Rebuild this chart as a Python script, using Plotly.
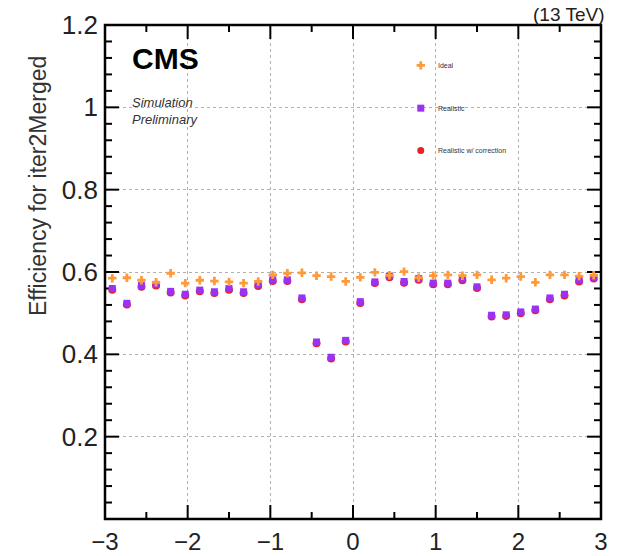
import numpy as np
import plotly.graph_objects as go

# 34 equal eta bins between -3 and 3
eta_edges = np.linspace(-3, 3, 35)
eta = 0.5 * (eta_edges[:-1] + eta_edges[1:])

eff_ideal = [0.585, 0.586, 0.580, 0.575, 0.597, 0.573, 0.580, 0.578, 0.576, 0.573,
             0.577, 0.593, 0.597, 0.598, 0.591, 0.589, 0.577, 0.587, 0.599, 0.592,
             0.601, 0.586, 0.591, 0.593, 0.591, 0.593, 0.581, 0.585, 0.589, 0.575,
             0.593, 0.593, 0.590, 0.592]

eff_realistic = [0.560, 0.524, 0.567, 0.570, 0.553, 0.546, 0.556, 0.552, 0.560, 0.552,
                 0.569, 0.581, 0.581, 0.537, 0.430, 0.393, 0.434, 0.528, 0.576, 0.590,
                 0.577, 0.584, 0.573, 0.573, 0.583, 0.564, 0.495, 0.496, 0.503, 0.510,
                 0.537, 0.546, 0.580, 0.587]

eff_corrected = [0.557, 0.521, 0.564, 0.567, 0.550, 0.543, 0.553, 0.549, 0.557, 0.549,
                 0.566, 0.578, 0.578, 0.534, 0.427, 0.390, 0.431, 0.525, 0.573, 0.587,
                 0.574, 0.581, 0.570, 0.570, 0.580, 0.561, 0.492, 0.493, 0.500, 0.507,
                 0.534, 0.543, 0.577, 0.584]

series_names = ["Ideal", "Realistic", "Realistic w/ correction"]
series_colors = ["#ff9a3a", "#9a32f5", "#e3222c"]

x_major = [-3, -2, -1, 0, 1, 2, 3]
x_minor = [-2.5, -1.5, -0.5, 0.5, 1.5, 2.5]
y_major = [0.2, 0.4, 0.6, 0.8, 1.0]
y_major_text = ["0.2", "0.4", "0.6", "0.8", "1", "1.2"]
y_minor = [round(0.04 * k, 2) for k in range(1, 30) if k % 5 != 0]

X_RANGE = [-3, 3]
Y_RANGE = [0, 1.2]

FONT = "Liberation Sans, Arial, Helvetica, sans-serif"
W, H = 619, 556
MARGIN = dict(l=105, r=18, t=25, b=37)
PLOT_W = W - MARGIN["l"] - MARGIN["r"]
PLOT_H = H - MARGIN["t"] - MARGIN["b"]

fig = go.Figure()

# Inward-pointing tick marks on all four sides, drawn as line segments
x_span = X_RANGE[1] - X_RANGE[0]
y_span = Y_RANGE[1] - Y_RANGE[0]
tx, ty = [], []
for vals, length in ((x_major, 14), (x_minor, 7)):
    dy = length / PLOT_H * y_span
    for v in vals:
        tx += [v, v, None, v, v, None]
        ty += [Y_RANGE[0], Y_RANGE[0] + dy, None, Y_RANGE[1], Y_RANGE[1] - dy, None]
for vals, length in ((y_major, 14), (y_minor, 7)):
    dx = length / PLOT_W * x_span
    for v in vals:
        tx += [X_RANGE[0], X_RANGE[0] + dx, None, X_RANGE[1], X_RANGE[1] - dx, None]
        ty += [v, v, None, v, v, None]
fig.add_trace(go.Scatter(x=tx, y=ty, mode="lines", showlegend=False, hoverinfo="skip",
                         line=dict(color="black", width=2), cliponaxis=False))

fig.add_trace(go.Scatter(
    x=eta, y=eff_corrected, mode="markers", name=series_names[2],
    marker=dict(symbol="circle", size=8, color=series_colors[2], line=dict(width=0)),
))
fig.add_trace(go.Scatter(
    x=eta, y=eff_realistic, mode="markers", name=series_names[1],
    marker=dict(symbol="square", size=7, color=series_colors[1], line=dict(width=0)),
))
fig.add_trace(go.Scatter(
    x=eta, y=eff_ideal, mode="markers", name=series_names[0],
    marker=dict(symbol="cross", size=7, color=series_colors[0], line=dict(width=0)),
))

# Hand-placed legend in the upper right of the frame
leg_y = [1.102, 0.998, 0.895]
leg_symbols = ["cross", "square", "circle"]
for name, col, sym, yy in zip(series_names, series_colors, leg_symbols, leg_y):
    fig.add_trace(go.Scatter(
        x=[0.82], y=[yy], mode="markers", showlegend=False, hoverinfo="skip",
        marker=dict(symbol=sym, size=7, color=col, line=dict(width=0)),
    ))
    fig.add_annotation(x=1.0, y=yy, text=name, showarrow=False, xanchor="left",
                       yanchor="middle", font=dict(family=FONT, size=7, color="#333"))

fig.add_annotation(xref="paper", yref="paper", x=0.05, y=0.97, text="<b>CMS</b>",
                   showarrow=False, xanchor="left", yanchor="top",
                   font=dict(family=FONT, size=30, color="black"))
fig.add_annotation(xref="paper", yref="paper", x=0.05, y=0.863,
                   text="<i>Simulation</i><br><i>Preliminary</i>",
                   showarrow=False, xanchor="left", yanchor="top", align="left",
                   font=dict(family=FONT, size=13, color="#333"))
fig.add_annotation(xref="paper", yref="paper", x=1.01, y=0.995, text="(13 TeV)",
                   showarrow=False, xanchor="right", yanchor="bottom",
                   font=dict(family=FONT, size=19, color="#222"))
fig.add_annotation(xref="paper", yref="paper", x=-0.135, y=0.674,
                   text="Efficiency for iter2Merged", textangle=-90,
                   showarrow=False, xanchor="center", yanchor="middle",
                   font=dict(family=FONT, size=23, color="#333"))

# Frame around the plotting area
fig.add_shape(type="rect", xref="paper", yref="paper", x0=0, x1=1, y0=0, y1=1,
              line=dict(color="black", width=2.5), layer="above")

fig.update_xaxes(
    range=X_RANGE, tickmode="array", tickvals=x_major,
    ticktext=["\u22123", "\u22122", "\u22121", "0", "1", "2", "3"], automargin=False,
    showline=False, ticks="", ticklabelstandoff=6,
    showgrid=True, gridcolor="#b0b0b0", gridwidth=1, griddash="dot",
    zeroline=False, tickfont=dict(family=FONT, size=24, color="#222"),
)
fig.update_yaxes(
    range=Y_RANGE, tickmode="array",
    tickvals=y_major + [1.2], ticktext=y_major_text, automargin=False,
    showline=False, ticks="", ticklabelstandoff=6,
    showgrid=True, gridcolor="#b0b0b0", gridwidth=1, griddash="dot",
    zeroline=False, tickfont=dict(family=FONT, size=26, color="#222"),
)

fig.update_layout(
    width=W, height=H, margin=MARGIN,
    paper_bgcolor="white", plot_bgcolor="rgba(0,0,0,0)",
    showlegend=False,
)

fig.write_html("out.html")
